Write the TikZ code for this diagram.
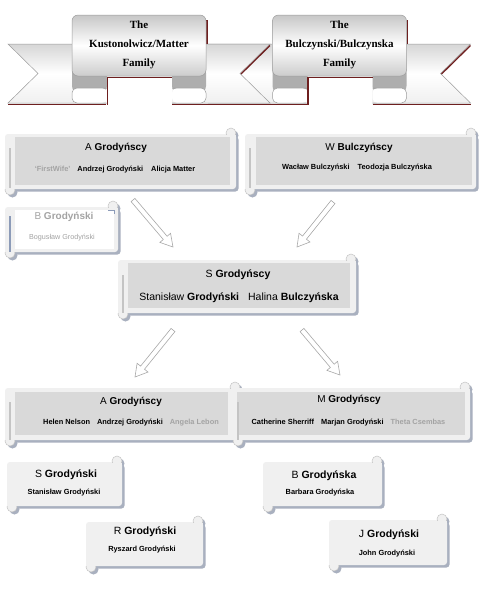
\documentclass[tikz,border=0pt]{standalone}
\usepackage{fontspec}
\setmainfont{Liberation Sans}
\newfontfamily\bannerfont{Liberation Serif}
\usetikzlibrary{calc}
\definecolor{scfill}{HTML}{F0F0F0}
\definecolor{scinner}{HTML}{D9D9D9}
\definecolor{scshadow}{HTML}{A9B0BF}
\definecolor{rollc}{HTML}{C4C4C4}
\definecolor{dkred}{HTML}{6E1F1F}
\definecolor{rbborder}{HTML}{9C9C9C}
\definecolor{foldc}{HTML}{AEAEAE}
\definecolor{graytext}{HTML}{A3A3A3}
\definecolor{arrowc}{HTML}{A8A8A8}
\definecolor{paleblue}{HTML}{8C9BB8}
\tikzset{
  head/.style={font=\fontsize{10}{12}\selectfont, inner sep=0pt},
  bighead/.style={font=\fontsize{10.5}{12}\selectfont, inner sep=0pt},
  names/.style={font=\fontsize{7.4}{9}\selectfont\bfseries, inner sep=0pt},
  bignames/.style={font=\fontsize{10.5}{12}\selectfont, inner sep=0pt},
  gothtext/.style={font=\bannerfont\bfseries\fontsize{11}{19}\selectfont, align=center, inner sep=0pt},
  barrow/.style={draw=arrowc, fill=white, line width=0.6pt},
  rollbar/.style={draw=rollc, line width=2pt},
}
\newcommand{\scrollbox}[5]{%
  \begin{scope}[shift={(2.5,2.5)}]
    \fill[scshadow,rounded corners=3pt] (#1,#2) rectangle (#3,#4);
    \fill[scshadow] (#3-5,#2-1) circle (5);
    \fill[scshadow] (#1+5,#4+1) circle (5);
  \end{scope}
  \fill[#5,rounded corners=3pt] (#1,#2) rectangle (#3,#4);
  \fill[#5] (#3-5,#2-1) circle (5);
  \fill[#5] (#1+5,#4+1) circle (5);
  \draw[rollc, line width=0.5pt] (#3-5,#2-1) circle (5);
  \fill[#5] (#3-10,#2+0.5) rectangle (#3,#2+6);
  \draw[rollc, line width=0.5pt] (#1+5,#4+1) circle (5);
  \fill[#5] (#1,#4-6) rectangle (#1+10,#4-0.5);
}
\newcommand{\blockarrow}[2]{%
  \coordinate (hd) at ($(#2)!12pt!(#1)$);
  \draw[barrow] ($(#1)!2.5pt!90:(#2)$) -- ($(hd)!2.5pt!90:(#2)$) -- ($(hd)!7pt!90:(#2)$)
    -- (#2) -- ($(hd)!7pt!-90:(#2)$) -- ($(hd)!2.5pt!-90:(#2)$) -- ($(#1)!2.5pt!-90:(#2)$) -- cycle;
}
\newcommand{\ribbon}[1]{%
  % arms
  \shade[top color=black!16, bottom color=black!6, middle color=white]
    (#1-131,44) -- (#1-33,44) -- (#1-33,103) -- (#1-131,103) -- (#1-101,73.5) -- cycle;
  \draw[rbborder, line width=0.5pt]
    (#1-33,44) -- (#1-131,44) -- (#1-101,73.5) -- (#1-131,103) -- (#1-33,103);
  \shade[top color=black!16, bottom color=black!6, middle color=white]
    (#1+33,44) -- (#1+131,44) -- (#1+101,73.5) -- (#1+131,103) -- (#1+33,103) -- cycle;
  \draw[rbborder, line width=0.5pt]
    (#1+33,44) -- (#1+131,44) -- (#1+101,73.5) -- (#1+131,103) -- (#1+33,103);
  \draw[dkred, line width=1.3pt] (#1+131,45.5) -- (#1+102,74);
  \draw[dkred, line width=1pt] (#1-33,104.5) -- (#1-131,104.5);
  \draw[dkred, line width=1pt] (#1+33,104.5) -- (#1+131,104.5);
  % folds
  \fill[foldc, rounded corners=7pt] (#1-67,66) rectangle (#1-32,93);
  \fill[foldc, rounded corners=7pt] (#1+33,66) rectangle (#1+67,93);
  \fill[white, rounded corners=5pt] (#1-67,88) rectangle (#1-32,103);
  \fill[white, rounded corners=5pt] (#1+33,88) rectangle (#1+67,103);
  \draw[rbborder, line width=0.5pt, rounded corners=5pt] (#1-32,88) -- (#1-67,88) -- (#1-67,103) -- (#1-32,103);
  \draw[rbborder, line width=0.5pt, rounded corners=5pt] (#1+33,88) -- (#1+67,88) -- (#1+67,103) -- (#1+33,103);
  \draw[dkred, line width=1.3pt] (#1-31.5,104.5) -- (#1-31.5,77.5) -- (#1+33,77.5);
  % panel
  \draw[dkred, line width=1.5pt] (#1+68,20) -- (#1+68,44);
  \shade[top color=black!22, bottom color=black!20, middle color=white, rounded corners=6pt,
    draw=rbborder, line width=0.5pt] (#1-67,15) rectangle (#1+67,76);
}
\begin{document}
\begin{tikzpicture}[x=1pt,y=-1pt]
\useasboundingbox (0,0) rectangle (484,598);
\fill[white] (0,0) rectangle (484,598);

% ---- banners
\ribbon{339.5}
\ribbon{139}
\node[gothtext] (famL) at (139,45) {The\\Kustonolwicz/Matter\\Family};
\node[gothtext] (famR) at (339.5,45) {The\\Bulczynski/Bulczynska\\Family};

% ---- top row
\scrollbox{5}{134}{236}{189}{scfill}
\fill[scinner] (15,137) rectangle (230,185);
\draw[rollbar] (10,148) -- (10,188);
\node[head] (aTop) at (116,148) {A \textbf{Grodyńscy}};
\node[names] (aTopN) at (115,170) {\textcolor{graytext}{`FirstWife'}\hspace{7pt}Andrzej Grodyński\hspace{8pt}Alicja Matter};

\scrollbox{245}{134}{476}{189}{scfill}
\fill[scinner] (256,137) rectangle (472,185);
\draw[rollbar] (250,148) -- (250,188);
\node[head] (wTop) at (359,148) {W \textbf{Bulczyńscy}};
\node[names] (wTopN) at (357,168) {Wacław Bulczyński\hspace{8pt}Teodozja Bulczyńska};

\scrollbox{5}{207}{118}{252}{scfill}
\fill[white] (15,210) rectangle (114,249);
\draw[paleblue, line width=0.8pt] (108,210) -- (114,210) -- (114,214);
\draw[paleblue, line width=1.2pt] (10,216) -- (10,252);
\node[head, text=graytext] (bPale) at (64,217) {B \textbf{Grodyński}};
\node[names, text=graytext, font=\fontsize{7.2}{9}\selectfont] (bPaleN) at (62,238) {Bogusław Grodyński};

% ---- middle
\scrollbox{118}{260}{356}{313}{scfill}
\fill[scinner] (128,263) rectangle (350,308);
\draw[rollbar] (123,275) -- (123,313);
\node[bighead] (sMid) at (238,275) {S \textbf{Grodyńscy}};
\node[bignames] (sMidN) at (239,298) {Stanisław \textbf{Grodyński}\hspace{9pt}Halina \textbf{Bulczyńska}};

% ---- arrows
\coordinate (a1t) at (133,200); \coordinate (a1h) at (173,247);
\coordinate (a2t) at (333,202); \coordinate (a2h) at (297,247);
\coordinate (a3t) at (173,330); \coordinate (a3h) at (135,377);
\coordinate (a4t) at (302,330); \coordinate (a4h) at (340,375);
\blockarrow{a1t}{a1h}
\blockarrow{a2t}{a2h}
\blockarrow{a3t}{a3h}
\blockarrow{a4t}{a4h}

% ---- lower row
\scrollbox{5}{388}{240}{440}{scfill}
\fill[scinner] (15,392) rectangle (228,435);
\draw[rollbar] (10,402) -- (10,440);
\node[head] (aBot) at (131,402) {A \textbf{Grodyńscy}};
\node[names] (aBotN) at (131,423) {Helen Nelson\hspace{7pt}Andrzej Grodyński\hspace{7pt}\textcolor{graytext}{Angela Lebon}};

\scrollbox{233}{388}{470}{440}{scfill}
\fill[scinner] (237,392) rectangle (465,435);
\draw[rollbar] (238,402) -- (238,440);
\node[head] (mBot) at (349,400) {M \textbf{Grodyńscy}};
\node[names] (mBotN) at (348.5,423) {Catherine Sherriff\hspace{7pt}Marjan Grodyński\hspace{7pt}\textcolor{graytext}{Theta Csembas}};

% ---- children
\scrollbox{7}{462}{122}{506}{scfill}
\node[bighead] (sKid) at (66,475) {S \textbf{Grodyński}};
\node[names] (sKidN) at (64,493) {Stanisław Grodyński};

\scrollbox{86}{522}{203}{566}{scfill}
\node[bighead] (rKid) at (145,532) {R \textbf{Grodyński}};
\node[names] (rKidN) at (142,550) {Ryszard Grodyński};

\scrollbox{263}{462}{382}{506}{scfill}
\node[bighead] (bKid) at (324,476) {B \textbf{Grodyńska}};
\node[names] (bKidN) at (320,493) {Barbara Grodyńska};

\scrollbox{329}{520}{447}{565}{scfill}
\node[bighead] (jKid) at (389,535) {J \textbf{Grodyński}};
\node[names] (jKidN) at (387,554) {John Grodyński};
\end{tikzpicture}
\end{document}
